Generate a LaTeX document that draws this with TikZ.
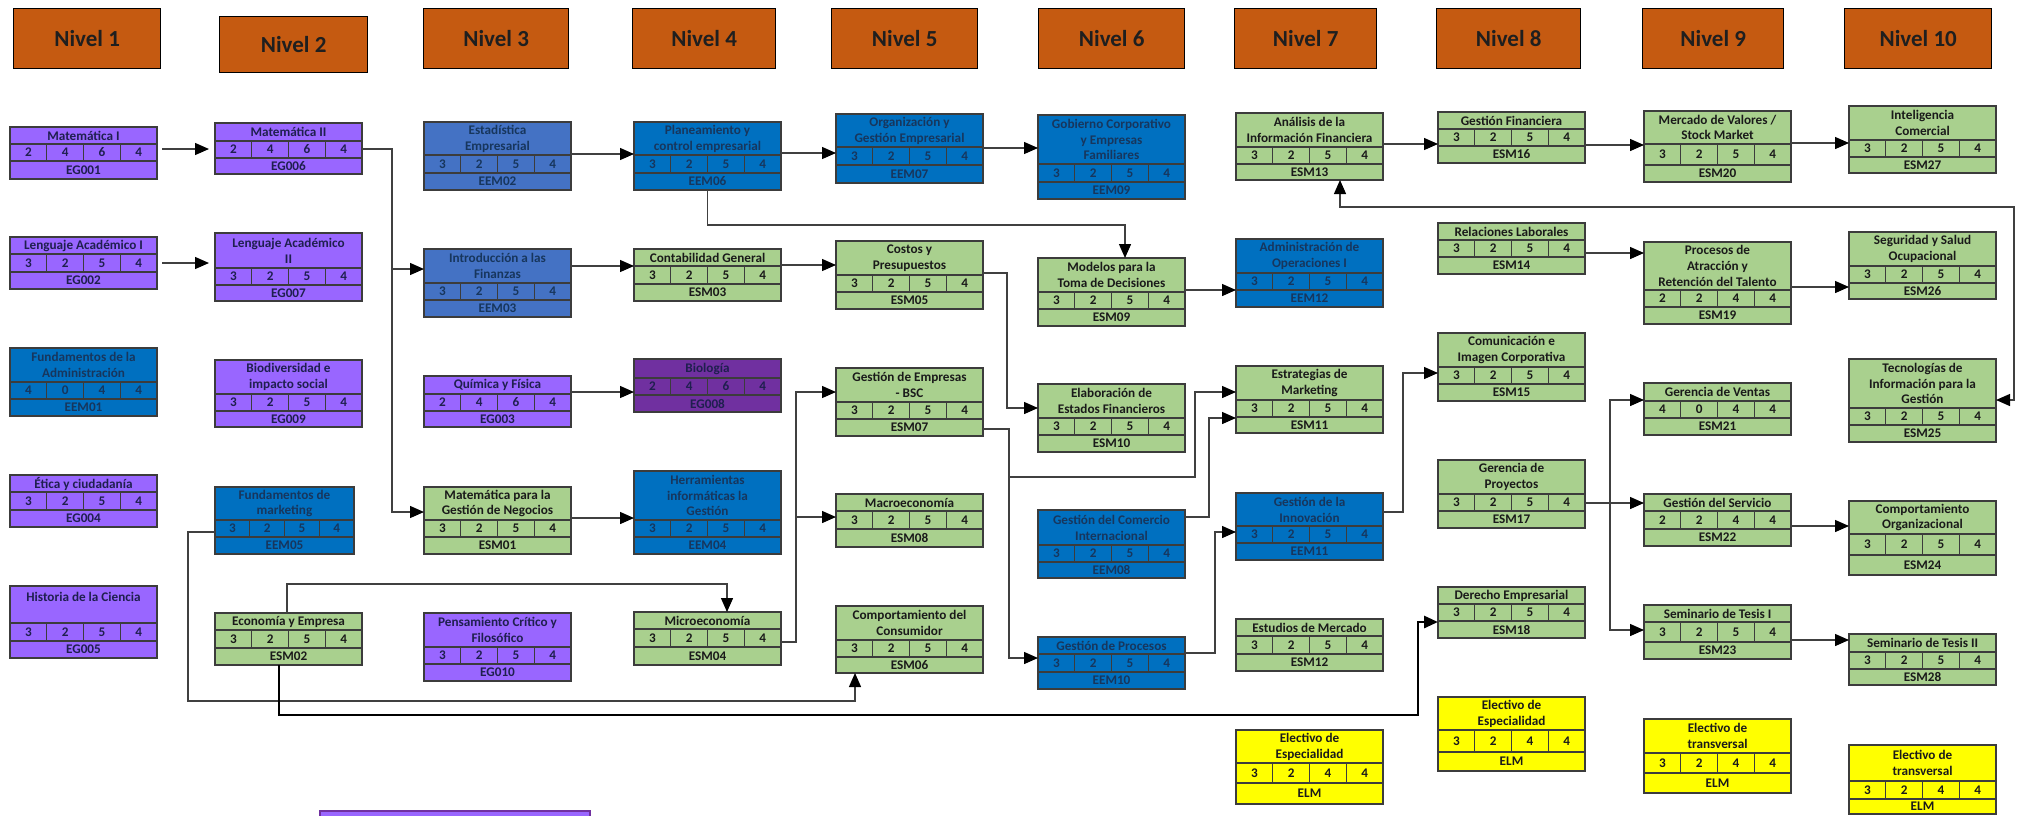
\documentclass[tikz,border=0pt]{standalone}
\usepackage{fontspec}
\setmainfont{Carlito}
\usetikzlibrary{arrows.meta,calc}

\definecolor{hdr}{HTML}{C55A11}
\definecolor{lpurple}{HTML}{9966FF}
\definecolor{dpurple}{HTML}{7030A0}
\definecolor{mblue}{HTML}{0070C0}
\definecolor{lblue}{HTML}{4472C4}
\definecolor{lgreen}{HTML}{A9D08E}
\definecolor{yel}{HTML}{FFFF00}
\definecolor{bord}{HTML}{3C3C3C}
\definecolor{conncol}{HTML}{404040}
\definecolor{txtP}{HTML}{1F1F4F}
\definecolor{txtB}{HTML}{17365D}
\definecolor{txtG}{HTML}{1A1A1A}

\tikzset{
  boxP/.style={fill=lpurple, text=txtP},
  boxD/.style={fill=dpurple, text=txtP},
  boxB/.style={fill=mblue, text=txtB},
  boxL/.style={fill=lblue, text=txtB},
  boxG/.style={fill=lgreen, text=txtG},
  boxY/.style={fill=yel, text=txtG},
  ctext/.style={font=\bfseries\fontsize{13.2}{15.8}\selectfont, inner sep=0pt, align=center},
  hdrbox/.style={fill=hdr, draw=black, line width=1.4pt, text=black!88,
     font=\bfseries\fontsize{23}{26}\selectfont, inner sep=0pt, anchor=north west},
  conn/.style={draw=conncol, line width=1.3pt, ->},
  thickconn/.style={draw=black, line width=2.8pt, ->}
}

\newcommand\cw{147}
\def\splitY#1/#2/#3/#4\relax{\def\yA{#1}\def\yB{#2}\def\yC{#3}\def\yD{#4}}
\def\splitN#1/#2/#3/#4\relax{\def\nA{#1}\def\nB{#2}\def\nC{#3}\def\nD{#4}}
% #1 name, #2 x, #3 ytop/ytitle/ynum/ybottom, #4 style, #5 title, #6 numbers, #7 code
\newcommand\course[7]{%
  \splitY#3\relax \splitN#6\relax
  \path[#4, draw=bord, line width=1.1pt] (#2,\yA) rectangle ({#2+\cw},\yD);
  \draw[bord, line width=1.1pt] (#2,\yB) -- ({#2+\cw},\yB) (#2,\yC) -- ({#2+\cw},\yC)
     ({#2+\cw/4},\yB) -- ({#2+\cw/4},\yC) ({#2+\cw/2},\yB) -- ({#2+\cw/2},\yC)
     ({#2+3*\cw/4},\yB) -- ({#2+3*\cw/4},\yC);
  \node[#4, fill=none, ctext] at ({#2+\cw/2},{(\yA+\yB)/2}) {#5};
  \node[#4, fill=none, ctext] at ({#2+\cw/8},{(\yB+\yC)/2}) {\nA};
  \node[#4, fill=none, ctext] at ({#2+3*\cw/8},{(\yB+\yC)/2}) {\nB};
  \node[#4, fill=none, ctext] at ({#2+5*\cw/8},{(\yB+\yC)/2}) {\nC};
  \node[#4, fill=none, ctext] at ({#2+7*\cw/8},{(\yB+\yC)/2}) {\nD};
  \node[#4, fill=none, ctext] at ({#2+\cw/2},{(\yC+\yD)/2}) {#7};
  \node[inner sep=0pt, outer sep=0pt, minimum width={\cw*1pt},
        minimum height={(\yD-\yA)*1pt}, anchor=north west] (#1) at (#2,\yA) {};
}
\newcommand\nivel[6]{\node[hdrbox, minimum width={(#4-#2)*1pt}, minimum height={(#5-#3)*1pt}] (#1) at (#2,#3) {#6};}

\begin{document}
\begin{tikzpicture}[x=1pt, y=-1pt, >={Triangle[length=14pt,width=12pt,color=black]}]
\useasboundingbox (0,0) rectangle (2017,815);
\fill[white] (0,0) rectangle (2017,815);

% headers
\nivel{N1}{13}{8}{160}{68}{Nivel 1}
\nivel{N2}{219}{16}{367}{72}{Nivel 2}
\nivel{N3}{423}{8}{568}{68}{Nivel 3}
\nivel{N4}{632}{8}{775}{68}{Nivel 4}
\nivel{N5}{831}{8}{977}{68}{Nivel 5}
\nivel{N6}{1038}{8}{1184}{68}{Nivel 6}
\nivel{N7}{1234}{8}{1376}{68}{Nivel 7}
\nivel{N8}{1436}{8}{1580}{68}{Nivel 8}
\nivel{N9}{1642}{8}{1783}{68}{Nivel 9}
\nivel{N10}{1844}{8}{1991}{68}{Nivel 10}

% column 1
\course{EG001}{10}{127/144/161/179}{boxP}{Matemática I}{2/4/6/4}{EG001}
\course{EG002}{10}{237/254/272/289}{boxP}{Lenguaje Académico I}{3/2/5/4}{EG002}
\course{EEM01}{10}{348/382/399/416}{boxB}{Fundamentos de la\\Administración}{4/0/4/4}{EEM01}
\course{EG004}{10}{475/492/510/527}{boxP}{Ética y ciudadanía}{3/2/5/4}{EG004}
\course{EG005}{10}{586/623/641/658}{boxP}{Historia de la Ciencia\\\phantom{X}}{3/2/5/4}{EG005}

% column 2
\course{EG006}{215}{123/141/158/174}{boxP}{Matemática II}{2/4/6/4}{EG006}
\course{EG007}{215}{233/268/285/301}{boxP}{Lenguaje Académico\\II}{3/2/5/4}{EG007}
\course{EG009}{215}{360/394/411/427}{boxP}{Biodiversidad e\\impacto social}{3/2/5/4}{EG009}
{\renewcommand\cw{139}\course{EEM05}{215}{487/520/537/554}{boxB}{Fundamentos de\\marketing}{3/2/5/4}{EEM05}}
\course{ESM02}{215}{613/630/648/665}{boxG}{Economía y Empresa}{3/2/5/4}{ESM02}

% column 3
\course{EEM02}{424}{122/155/173/190}{boxL}{Estadística\\Empresarial}{3/2/5/4}{EEM02}
\course{EEM03}{424}{249/283/300/317}{boxL}{Introducción a las\\Finanzas}{3/2/5/4}{EEM03}
\course{EG003}{424}{376/394/411/427}{boxP}{Química y Física}{2/4/6/4}{EG003}
\course{ESM01}{424}{487/520/537/554}{boxG}{Matemática para la\\Gestión de Negocios}{3/2/5/4}{ESM01}
\course{EG010}{424}{613/647/664/681}{boxP}{Pensamiento Crítico y\\Filosófico}{3/2/5/4}{EG010}

% column 4
\course{EEM06}{634}{122/155/173/190}{boxB}{Planeamiento y\\control empresarial}{3/2/5/4}{EEM06}
\course{ESM03}{634}{249/266/284/301}{boxG}{Contabilidad General}{3/2/5/4}{ESM03}
\course{EG008}{634}{359/378/395/412}{boxD}{Biología}{2/4/6/4}{EG008}
\course{EEM04}{634}{471/520/537/554}{boxB}{Herramientas\\informáticas la\\Gestión}{3/2/5/4}{EEM04}
\course{ESM04}{634}{612/629/647/665}{boxG}{Microeconomía}{3/2/5/4}{ESM04}

% column 5
\course{EEM07}{836}{114/147/165/183}{boxB}{Organización y\\Gestión Empresarial}{3/2/5/4}{EEM07}
\course{ESM05}{836}{241/275/292/309}{boxG}{Costos y\\Presupuestos}{3/2/5/4}{ESM05}
\course{ESM07}{836}{368/402/419/436}{boxG}{Gestión de Empresas\\- BSC}{3/2/5/4}{ESM07}
\course{ESM08}{836}{494/511/529/547}{boxG}{Macroeconomía}{3/2/5/4}{ESM08}
\course{ESM06}{836}{606/640/657/673}{boxG}{Comportamiento del\\Consumidor}{3/2/5/4}{ESM06}

% column 6
\course{EEM09}{1038}{115/164/182/199}{boxB}{Gobierno Corporativo\\y Empresas\\Familiares}{3/2/5/4}{EEM09}
\course{ESM09}{1038}{258/292/309/326}{boxG}{Modelos para la\\Toma de Decisiones}{3/2/5/4}{ESM09}
\course{ESM10}{1038}{384/418/435/452}{boxG}{Elaboración de\\Estados Financieros}{3/2/5/4}{ESM10}
\course{EEM08}{1038}{510/545/562/578}{boxB}{Gestión del Comercio\\Internacional}{3/2/5/4}{EEM08}
\course{EEM10}{1038}{637/654/672/689}{boxB}{Gestión de Procesos}{3/2/5/4}{EEM10}

% column 7
\course{ESM13}{1236}{113/147/164/180}{boxG}{Análisis de la\\Información Financiera}{3/2/5/4}{ESM13}
\course{EEM12}{1236}{239/273/290/307}{boxB}{Administración de\\Operaciones I}{3/2/5/4}{EEM12}
\course{ESM11}{1236}{366/400/417/433}{boxG}{Estrategias de\\Marketing}{3/2/5/4}{ESM11}
\course{EEM11}{1236}{493/526/543/560}{boxB}{Gestión de la\\Innovación}{3/2/5/4}{EEM11}
\course{ESM12}{1236}{619/636/654/671}{boxG}{Estudios de Mercado}{3/2/5/4}{ESM12}
\course{ELMa}{1236}{730/763/783/804}{boxY}{Electivo de\\Especialidad}{3/2/4/4}{ELM}

% column 8
\course{ESM16}{1438}{112/129/146/163}{boxG}{Gestión Financiera}{3/2/5/4}{ESM16}
\course{ESM14}{1438}{223/240/257/274}{boxG}{Relaciones Laborales}{3/2/5/4}{ESM14}
\course{ESM15}{1438}{333/367/384/401}{boxG}{Comunicación e\\Imagen Corporativa}{3/2/5/4}{ESM15}
\course{ESM17}{1438}{460/494/511/528}{boxG}{Gerencia de\\Proyectos}{3/2/5/4}{ESM17}
\course{ESM18}{1438}{587/604/621/638}{boxG}{Derecho Empresarial}{3/2/5/4}{ESM18}
\course{ELMb}{1438}{697/730/752/771}{boxY}{Electivo de\\Especialidad}{3/2/4/4}{ELM}

% column 9
\course{ESM20}{1644}{111/144/165/182}{boxG}{Mercado de Valores /\\Stock Market}{3/2/5/4}{ESM20}
\course{ESM19}{1644}{242/290/307/324}{boxG}{Procesos de\\Atracción y\\Retención del Talento}{2/2/4/4}{ESM19}
\course{ESM21}{1644}{383/401/418/435}{boxG}{Gerencia de Ventas}{4/0/4/4}{ESM21}
\course{ESM22}{1644}{494/511/529/546}{boxG}{Gestión del Servicio}{2/2/4/4}{ESM22}
\course{ESM23}{1644}{605/622/642/659}{boxG}{Seminario de Tesis I}{3/2/5/4}{ESM23}
\course{ELMc}{1644}{719/753/773/793}{boxY}{Electivo de\\transversal}{3/2/4/4}{ELM}

% column 10
\course{ESM27}{1849}{106/140/157/173}{boxG}{Inteligencia\\Comercial}{3/2/5/4}{ESM27}
\course{ESM26}{1849}{232/266/283/299}{boxG}{Seguridad y Salud\\Ocupacional}{3/2/5/4}{ESM26}
\course{ESM25}{1849}{359/408/425/442}{boxG}{Tecnologías de\\Información para la\\Gestión}{3/2/5/4}{ESM25}
\course{ESM24}{1849}{501/534/555/575}{boxG}{Comportamiento\\Organizacional}{3/2/5/4}{ESM24}
\course{ESM28}{1849}{634/652/669/685}{boxG}{Seminario de Tesis II}{3/2/5/4}{ESM28}
\course{ELMd}{1849}{745/781/799/814}{boxY}{Electivo de\\transversal}{3/2/4/4}{ELM}

% partly visible box at the bottom
\path[fill=lpurple, draw=dpurple, line width=1.5pt] (320,811) rectangle (590,822);

% connectors
\draw[conn, shorten <=5pt, shorten >=6pt] (EG001.east |- 0,149) -- (EG006.west |- 0,149);
\draw[conn, shorten <=5pt, shorten >=6pt] (EG002.east |- 0,263) -- (EG007.west |- 0,263);
\coordinate (j1) at (392,269);
\draw[conn] (EG006.east |- 0,149) -| (392,512) -- (ESM01.west |- 0,512);
\draw[conn] (j1) -- (EEM03.west |- j1);
\draw[conn] (EEM02.east |- 0,154) -- (EEM06.west |- 0,154);
\draw[conn] (EEM03.east |- 0,266) -- (ESM03.west |- 0,266);
\draw[conn] (EG003.east |- 0,392) -- (EG008.west |- 0,392);
\draw[conn] (ESM01.east |- 0,518) -- (EEM04.west |- 0,518);
\draw[conn] (EEM06.east |- 0,153) -- (EEM07.west |- 0,153);
\draw[conn] (EEM07.east |- 0,148) -- (EEM09.west |- 0,148);
\draw[conn] (EEM06.south) |- (1125,225) -- (ESM09.north -| 1125,0);
\draw[conn] (ESM03.east |- 0,265) -- (ESM05.west |- 0,265);
\draw[conn] (ESM05.east |- 0,273) -| (1007,408) -- (ESM10.west |- 0,408);
\coordinate (j2) at (796,517);
\draw[conn] (ESM04.east |- 0,642) -| (796,392) -- (ESM07.west |- 0,392);
\draw[conn] (j2) -- (ESM08.west |- j2);
\coordinate (j3) at (1009,477);
\draw[conn] (ESM07.east |- 0,429) -| (1009,658) -- (EEM10.west |- 0,658);
\draw[conn] (j3) -| (1195,392) -- (ESM11.west |- 0,392);
\draw[conn] (EEM08.east |- 0,517) -| (1209,418) -- (ESM11.west |- 0,418);
\draw[conn] (ESM09.east |- 0,290) -- (EEM12.west |- 0,290);
\draw[conn] (EEM10.east |- 0,653) -| (1215,532) -- (EEM11.west |- 0,532);
\draw[conn] (EEM11.east |- 0,512) -| (1403,373) -- (ESM15.west |- 0,373);
\draw[conn] (ESM13.east |- 0,144) -- (ESM16.west |- 0,144);
\draw[conn, <->] (ESM13.south -| 1340,0) |- (2014,207) |- (ESM25.east |- 0,400);
\draw[conn] (ESM16.east |- 0,145) -- (ESM20.west |- 0,145);
\draw[conn] (ESM14.east |- 0,253) -- (ESM19.west |- 0,253);
\coordinate (j4) at (1610,503);
\draw[conn] (ESM17.east |- j4) -- (ESM22.west |- j4);
\draw[conn] (j4) |- (ESM21.west |- 0,400);
\draw[conn] (j4) |- (ESM23.west |- 0,630);
\draw[conn] (ESM20.east |- 0,143) -- (ESM27.west |- 0,143);
\draw[conn] (ESM19.east |- 0,287) -- (ESM26.west |- 0,287);
\draw[conn] (ESM22.east |- 0,526) -- (ESM24.west |- 0,526);
\draw[conn] (ESM23.east |- 0,640) -- (ESM28.west |- 0,640);
\draw[conn] (EEM05.west |- 0,532) -| (188,701) -| (ESM06.south -| 855,0);
\draw[conn] (ESM02.north -| 287,0) |- (727,584) -- (ESM04.north -| 727,0);
\draw[thickconn] (ESM02.south -| 279,0) |- (1418,715) |- (ESM18.west |- 0,622);
\end{tikzpicture}
\end{document}
